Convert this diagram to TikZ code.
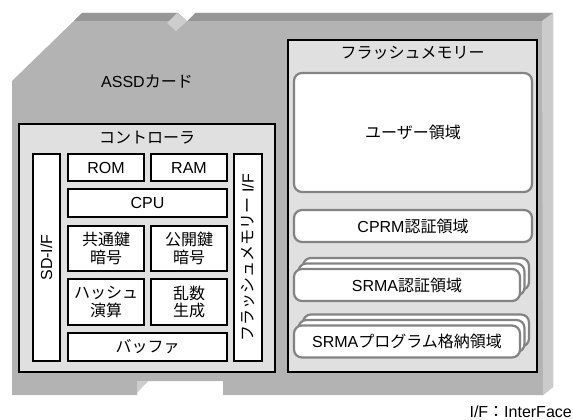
\documentclass[tikz,border=0pt]{standalone}
\usepackage{fontspec}
\setmainfont{Liberation Sans}
\newfontfamily\jp{Noto Sans CJK JP}
\definecolor{cardface}{HTML}{B3B3B3}
\definecolor{cardtop}{HTML}{969696}
\definecolor{cardside}{HTML}{CBCBCB}
\definecolor{cardnotch}{HTML}{CDCDCD}
\definecolor{contfill}{HTML}{E0E0E0}
\definecolor{rborder}{HTML}{838383}
\begin{document}
\begin{tikzpicture}[x=1pt,y=-1pt,
  lbl/.style={font=\fontsize{16}{17.5}\selectfont, inner sep=0pt, align=center},
  cont/.style={draw=black, fill=contfill, line width=2.2pt, inner sep=0pt},
  ibox/.style={draw=black, fill=white, line width=2.4pt, inner sep=0pt, lbl},
  rbox/.style={draw=rborder, fill=white, line width=2.2pt, rounded corners=8pt, inner sep=0pt, lbl},
  wide/.style={minimum width=226pt, minimum height=32pt}
]
\fill[white] (0,0) rectangle (573,420);
\useasboundingbox (0,0) rectangle (573,420);
% card body
\fill[cardface] (12,81) -- (82,13) -- (553,13) -- (553,387) -- (543,395) -- (223,395) -- (223,381) -- (148,381) -- (137,392) -- (137,395) -- (12,395) -- cycle;
\fill[cardtop] (82,13) -- (553,13) -- (542,21) -- (74,21) -- cycle;
\fill[cardside] (542,21) -- (553,13) -- (553,387) -- (543,395) -- cycle;
\fill[white] (177,12) -- (196,12) -- (187,21) -- cycle;
\fill[cardnotch] (167,23) -- (177,13) -- (187,21) -- (176,31) -- cycle;
\fill[cardnotch] (137,381) -- (148,381) -- (137,393) -- cycle;
\node[lbl] (card) at (147,82) {ASSD{\jp カード}};
% controller
\node[cont, minimum width=256pt, minimum height=248pt] (ctrl) at (147,248) {};
\node[lbl] (ctrlt) at (147,138) {\jp コントローラ};
\node[ibox, minimum width=27pt, minimum height=207pt] (sdif) at (46.5,257.5) {};
\node[lbl, rotate=90] (sdift) at (sdif) {SD-I/F};
\node[ibox, minimum width=76pt, minimum height=27pt] (rom) at (106,167.5) {ROM};
\node[ibox, minimum width=76pt, minimum height=27pt] (ram) at (189,167.5) {RAM};
\node[ibox, minimum width=159pt, minimum height=28pt] (cpu) at (147.5,203) {CPU};
\node[ibox, minimum width=76pt, minimum height=45pt] (sym) at (106,248.5) {\jp 共通鍵\\\jp 暗号};
\node[ibox, minimum width=76pt, minimum height=45pt] (pub) at (189,248.5) {\jp 公開鍵\\\jp 暗号};
\node[ibox, minimum width=76pt, minimum height=46pt] (hash) at (106,302) {\jp ハッシュ\\\jp 演算};
\node[ibox, minimum width=76pt, minimum height=46pt] (rng) at (189,302) {\jp 乱数\\\jp 生成};
\node[ibox, minimum width=159pt, minimum height=28pt] (buf) at (147.5,347) {\jp バッファ};
\node[ibox, minimum width=28pt, minimum height=207pt] (fif) at (248,257.5) {};
\node[lbl, rotate=90] (fift) at (fif) {{\jp フラッシュメモリー} I/F};
% flash memory
\node[cont, minimum width=249pt, minimum height=332pt] (flash) at (412.5,206) {};
\node[lbl] (flasht) at (412.5,53) {\jp フラッシュメモリー};
\node[rbox, minimum width=238pt, minimum height=119pt] (user) at (413,132.5) {\jp ユーザー領域};
\node[rbox, minimum width=238pt, minimum height=32pt] (cprm) at (413,226) {CPRM{\jp 認証領域}};
\node[rbox, wide] (srma3) at (416,274) {};
\node[rbox, wide] (srma2) at (411.5,279.5) {};
\node[rbox, wide] (srma) at (407,285) {SRMA{\jp 認証領域}};
\node[rbox, wide] (prog3) at (416,330.5) {};
\node[rbox, wide] (prog2) at (411.5,336) {};
\node[rbox, wide] (prog) at (407,341.5) {SRMA{\jp プログラム格納領域}};
\node[lbl, anchor=base east] (note) at (572,417) {I/F{\jp ：}InterFace};
\end{tikzpicture}
\end{document}
